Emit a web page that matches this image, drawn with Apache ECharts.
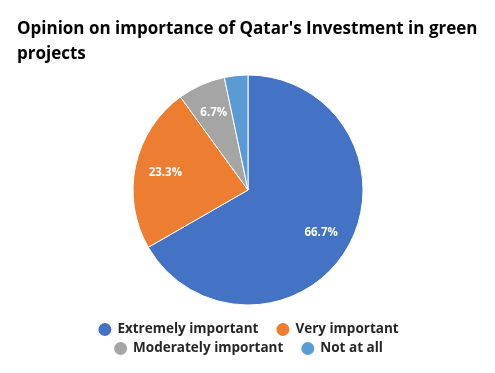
<!DOCTYPE html>
<html><head><meta charset="utf-8">
<script src="https://cdn.jsdelivr.net/npm/echarts@6/dist/echarts.min.js"></script>
<style>html,body{margin:0;padding:0;background:#fff}#c{width:495px;height:373px}</style>
</head><body><div id="c"></div>
<script>
const categories = ["Extremely important", "Very important", "Moderately important", "Not at all"];
const values = [66.7, 23.3, 6.7, 3.3];
const showLabel = [true, true, true, false];
const colors = ["#4472C4", "#ED7D31", "#A5A5A5", "#5B9BD5"];

const chart = echarts.init(document.getElementById('c'));
const font = '"Open Sans", "Liberation Sans", sans-serif';
const data = categories.map((n, i) => ({name: n, value: values[i], itemStyle: {color: colors[i]}}));
const labelData = categories.map((n, i) => ({name: n, value: values[i], label: {show: showLabel[i]}}));
const legendBase = {
  left: 'center', icon: 'circle', itemWidth: 15, itemHeight: 15, itemGap: 16,
  textStyle: {fontFamily: font, fontWeight: 'bold', fontSize: 13.5, color: '#262626'}
};
chart.setOption({
  animation: false,
  title: {
    text: "Opinion on importance of Qatar's Investment in green\nprojects",
    left: 12, top: 12,
    textStyle: {fontFamily: font, fontWeight: 'bold', fontSize: 17, color: '#000', lineHeight: 25}
  },
  legend: [
    Object.assign({}, legendBase, {data: categories.slice(0, 2), top: 316}),
    Object.assign({}, legendBase, {data: categories.slice(2, 4), top: 335})
  ],
  series: [{
    type: 'pie', center: [248, 190], radius: [0, 115], startAngle: 90, clockwise: true,
    data: data, label: {show: false}, labelLine: {show: false},
    itemStyle: {borderColor: '#fff', borderWidth: 1}, silent: true
  }, {
    type: 'pie', center: [248, 190], radius: [45, 118], startAngle: 90, clockwise: true,
    data: labelData, silent: true, legendHoverLink: false,
    itemStyle: {color: 'rgba(0,0,0,0)'},
    label: {position: 'inside', formatter: p => p.value.toFixed(1) + '%', color: '#fff', fontWeight: 'bold', fontSize: 11.5, fontFamily: font},
    labelLine: {show: false}
  }]
});
</script></body></html>
